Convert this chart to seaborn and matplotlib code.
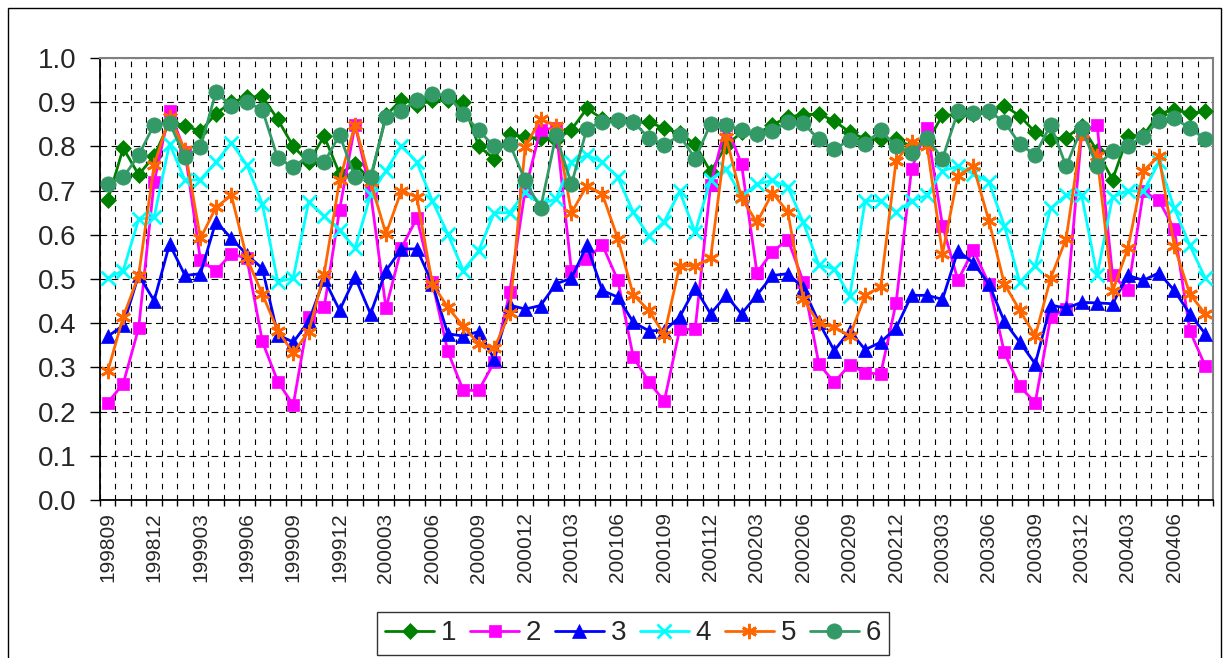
import matplotlib
matplotlib.use("Agg")
import matplotlib.pyplot as plt
import seaborn as sns
import pandas as pd
import numpy as np
from matplotlib.patches import Rectangle
from matplotlib.lines import Line2D

# Monthly periods 199809 .. 200408
months = [f"{y}{m:02d}" for y in range(1998, 2005) for m in range(1, 13)]
months = months[months.index("199809"):months.index("200408") + 1]

series_names = ["1", "2", "3", "4", "5", "6"]

s1 = [0.678, 0.796, 0.736, 0.778, 0.855, 0.847, 0.834, 0.874, 0.900, 0.911,
      0.913, 0.861, 0.800, 0.764, 0.823, 0.738, 0.760, 0.725, 0.870, 0.906,
      0.894, 0.904, 0.905, 0.900, 0.800, 0.772, 0.828, 0.821, 0.818, 0.815,
      0.838, 0.886, 0.862, 0.858, 0.855, 0.855, 0.841, 0.830, 0.805, 0.742,
      0.802, 0.832, 0.828, 0.849, 0.866, 0.872, 0.873, 0.858, 0.832, 0.817,
      0.816, 0.816, 0.800, 0.810, 0.870, 0.872, 0.874, 0.877, 0.892, 0.869,
      0.832, 0.816, 0.820, 0.846, 0.790, 0.725, 0.824, 0.825, 0.874, 0.883,
      0.875, 0.879]
s2 = [0.220, 0.263, 0.389, 0.719, 0.881, 0.787, 0.542, 0.519, 0.557, 0.547,
      0.359, 0.268, 0.215, 0.415, 0.436, 0.657, 0.849, 0.696, 0.434, 0.570,
      0.638, 0.493, 0.336, 0.248, 0.248, 0.312, 0.470, 0.700, 0.838, 0.841,
      0.517, 0.546, 0.577, 0.497, 0.323, 0.268, 0.223, 0.386, 0.386, 0.713,
      0.849, 0.760, 0.514, 0.562, 0.589, 0.494, 0.308, 0.266, 0.306, 0.288,
      0.285, 0.446, 0.749, 0.841, 0.621, 0.497, 0.566, 0.489, 0.334, 0.257,
      0.220, 0.414, 0.432, 0.828, 0.849, 0.509, 0.474, 0.698, 0.678, 0.612,
      0.383, 0.303]
s3 = [0.370, 0.395, 0.509, 0.451, 0.579, 0.508, 0.512, 0.630, 0.592, 0.555,
      0.524, 0.374, 0.357, 0.404, 0.500, 0.429, 0.504, 0.421, 0.519, 0.568,
      0.568, 0.489, 0.376, 0.371, 0.381, 0.319, 0.441, 0.432, 0.440, 0.489,
      0.502, 0.576, 0.474, 0.459, 0.402, 0.383, 0.383, 0.414, 0.480, 0.421,
      0.463, 0.421, 0.464, 0.508, 0.512, 0.479, 0.402, 0.338, 0.383, 0.340,
      0.357, 0.389, 0.463, 0.463, 0.454, 0.564, 0.536, 0.489, 0.404, 0.357,
      0.308, 0.441, 0.434, 0.447, 0.446, 0.444, 0.508, 0.497, 0.514, 0.474,
      0.421, 0.376]
s4 = [0.502, 0.519, 0.635, 0.640, 0.806, 0.723, 0.725, 0.764, 0.808, 0.758,
      0.670, 0.494, 0.502, 0.675, 0.642, 0.610, 0.570, 0.690, 0.745, 0.802,
      0.764, 0.677, 0.602, 0.519, 0.564, 0.650, 0.650, 0.696, 0.670, 0.681,
      0.764, 0.781, 0.764, 0.730, 0.651, 0.597, 0.630, 0.698, 0.606, 0.725,
      0.749, 0.687, 0.715, 0.723, 0.708, 0.628, 0.532, 0.523, 0.461, 0.677,
      0.677, 0.651, 0.677, 0.689, 0.745, 0.755, 0.738, 0.720, 0.621, 0.493,
      0.530, 0.660, 0.690, 0.690, 0.508, 0.685, 0.700, 0.698, 0.764, 0.660,
      0.576, 0.502]
s5 = [0.291, 0.414, 0.508, 0.758, 0.866, 0.791, 0.592, 0.662, 0.689, 0.547,
      0.466, 0.383, 0.333, 0.381, 0.512, 0.723, 0.849, 0.720, 0.602, 0.700,
      0.685, 0.489, 0.436, 0.393, 0.353, 0.343, 0.423, 0.798, 0.862, 0.846,
      0.650, 0.711, 0.692, 0.591, 0.464, 0.429, 0.374, 0.530, 0.530, 0.547,
      0.821, 0.683, 0.628, 0.695, 0.651, 0.454, 0.400, 0.391, 0.371, 0.463,
      0.482, 0.768, 0.810, 0.802, 0.557, 0.734, 0.755, 0.632, 0.489, 0.429,
      0.371, 0.502, 0.591, 0.830, 0.778, 0.472, 0.570, 0.745, 0.778, 0.574,
      0.466, 0.421]
s6 = [0.715, 0.730, 0.780, 0.849, 0.853, 0.776, 0.798, 0.923, 0.892, 0.900,
      0.883, 0.773, 0.753, 0.779, 0.764, 0.826, 0.730, 0.730, 0.866, 0.881,
      0.904, 0.919, 0.915, 0.874, 0.836, 0.800, 0.806, 0.723, 0.660, 0.825,
      0.715, 0.840, 0.856, 0.859, 0.856, 0.819, 0.803, 0.825, 0.772, 0.851,
      0.849, 0.837, 0.827, 0.835, 0.855, 0.852, 0.816, 0.793, 0.815, 0.806,
      0.836, 0.800, 0.786, 0.818, 0.772, 0.879, 0.876, 0.879, 0.856, 0.805,
      0.781, 0.849, 0.755, 0.841, 0.755, 0.790, 0.802, 0.822, 0.858, 0.864,
      0.841, 0.817]

colors = ["#008000", "#FF00FF", "#0000FF", "#00FFFF", "#FF6600", "#339966"]
markers = ["D", "s", "^", "x", (6, 2, 0), "o"]
msizes = [8.5, 9, 10.5, 10, 11, 11]

sns.set_style("white")
plt.rcParams["font.family"] = ["Liberation Sans", "DejaVu Sans"]

df = pd.DataFrame({"month": months, "pos": np.arange(len(months))})
for name, vals in zip(series_names, [s1, s2, s3, s4, s5, s6]):
    df[name] = vals


def is_line_marker(m):
    return m == "x" or isinstance(m, tuple)


fig = plt.figure(figsize=(12.24, 6.58), dpi=100)
ax = fig.add_axes([100 / 1224, 1 - 500 / 658, 1113 / 1224, 442 / 658])

for name, col, mk, ms in zip(series_names, colors, markers, msizes):
    sns.lineplot(data=df, x="pos", y=name, ax=ax, color=col, linewidth=2.0,
                 marker=mk, markersize=ms, markerfacecolor=col,
                 markeredgecolor=col,
                 markeredgewidth=2.0 if is_line_marker(mk) else 0.5,
                 label=name, legend=False, zorder=3)

n = len(months)
ax.set_xlim(-0.5, n - 0.5)
ax.set_ylim(0, 1.0)
ax.set_xlabel("")
ax.set_ylabel("")

ax.set_xticks(np.arange(0, n, 3))
ax.set_xticklabels(months[::3], rotation=90, fontsize=15)
ax.set_xticks(np.arange(-0.5, n, 1), minor=True)
ax.set_yticks(np.arange(0, 1.01, 0.1))
ax.set_yticklabels([f"{v:.1f}" for v in np.arange(0, 1.01, 0.1)], fontsize=20)

ax.tick_params(axis="x", which="major", length=0, pad=9)
ax.tick_params(axis="x", which="minor", length=4, width=1, color="black",
               direction="out", bottom=True)
ax.tick_params(axis="y", which="major", length=7, width=1, color="black",
               direction="out", left=True, pad=10)

ax.grid(False)
ax.xaxis.grid(True, which="minor", color="black", linestyle=(0, (5, 5)), linewidth=0.8)
ax.yaxis.grid(True, which="major", color="black", linestyle=(0, (6, 4)), linewidth=0.8)
ax.set_axisbelow(True)

for side in ("left", "bottom"):
    ax.spines[side].set_color("black")
    ax.spines[side].set_linewidth(1.3)
for side in ("top", "right"):
    ax.spines[side].set_color("#808080")
    ax.spines[side].set_linewidth(1.5)

# Chart area frame
fig.patches.append(Rectangle((8 / 1224, -0.05), 1213 / 1224, 1 - 8 / 658 + 0.05,
                             transform=fig.transFigure, fill=False,
                             edgecolor="black", linewidth=1.0, zorder=0))

handles = [Line2D([], [], color=c, marker=m, markersize=s, markerfacecolor=c,
                  markeredgecolor=c, linewidth=2.0,
                  markeredgewidth=2.0 if is_line_marker(m) else 0.5)
           for c, m, s in zip(colors, markers, msizes)]
leg = fig.legend(handles, series_names, loc="upper left",
                 bbox_to_anchor=(377 / 1224, 1 - 612 / 658), fontsize=20,
                 ncol=6, frameon=True, fancybox=False, handlelength=1.75,
                 handletextpad=0.25, columnspacing=0.5, borderpad=0.3,
                 borderaxespad=0)
leg.get_frame().set_edgecolor("black")
leg.get_frame().set_linewidth(1.0)

fig.savefig("out.png", dpi=100, facecolor="white")
